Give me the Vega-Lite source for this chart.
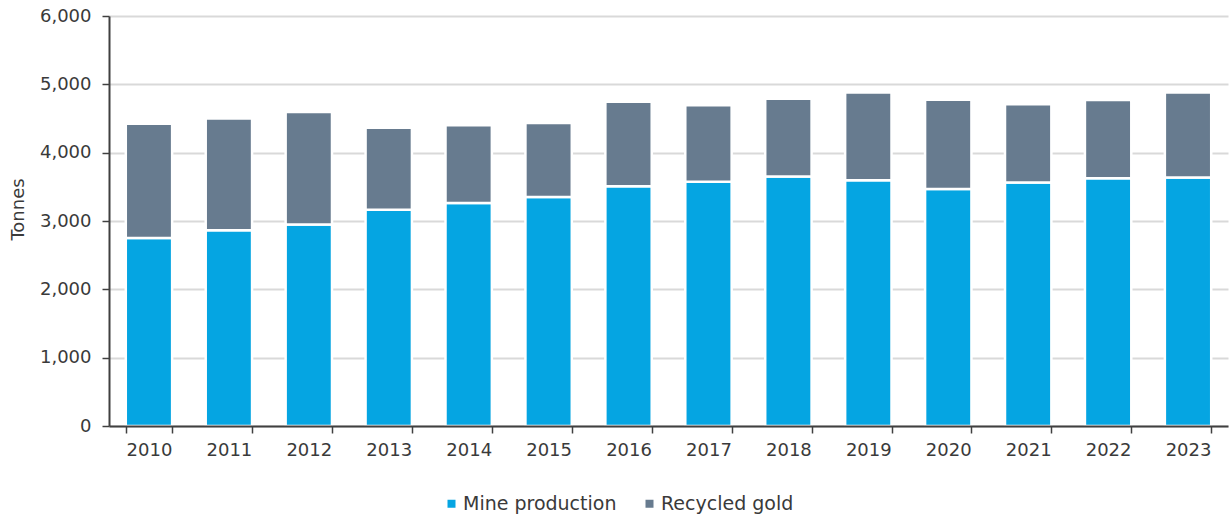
{
  "$schema": "https://vega.github.io/schema/vega-lite/v6.json",
  "autosize": {"type": "none"},
  "padding": {"left": 109, "top": 16, "right": 3, "bottom": 92},
  "width": 1119,
  "height": 410,
  "background": "white",
  "data": {
    "values": [
      {"year": "2010", "series": "Mine production", "value": 2750},
      {"year": "2011", "series": "Mine production", "value": 2865},
      {"year": "2012", "series": "Mine production", "value": 2950},
      {"year": "2013", "series": "Mine production", "value": 3165},
      {"year": "2014", "series": "Mine production", "value": 3265},
      {"year": "2015", "series": "Mine production", "value": 3350},
      {"year": "2016", "series": "Mine production", "value": 3510},
      {"year": "2017", "series": "Mine production", "value": 3575},
      {"year": "2018", "series": "Mine production", "value": 3650},
      {"year": "2019", "series": "Mine production", "value": 3595},
      {"year": "2020", "series": "Mine production", "value": 3470},
      {"year": "2021", "series": "Mine production", "value": 3565},
      {"year": "2022", "series": "Mine production", "value": 3625},
      {"year": "2023", "series": "Mine production", "value": 3635},
      {"year": "2010", "series": "Recycled gold", "value": 1675},
      {"year": "2011", "series": "Recycled gold", "value": 1635},
      {"year": "2012", "series": "Recycled gold", "value": 1645},
      {"year": "2013", "series": "Recycled gold", "value": 1200},
      {"year": "2014", "series": "Recycled gold", "value": 1135},
      {"year": "2015", "series": "Recycled gold", "value": 1085},
      {"year": "2016", "series": "Recycled gold", "value": 1235},
      {"year": "2017", "series": "Recycled gold", "value": 1120},
      {"year": "2018", "series": "Recycled gold", "value": 1140},
      {"year": "2019", "series": "Recycled gold", "value": 1285},
      {"year": "2020", "series": "Recycled gold", "value": 1305},
      {"year": "2021", "series": "Recycled gold", "value": 1145},
      {"year": "2022", "series": "Recycled gold", "value": 1145},
      {"year": "2023", "series": "Recycled gold", "value": 1245}
    ]
  },
  "mark": {"type": "bar", "stroke": "white", "strokeWidth": 2.5},
  "encoding": {
    "x": {
      "field": "year",
      "type": "ordinal",
      "scale": {"paddingInner": 0.42, "paddingOuter": 0.21},
      "axis": {
        "title": null,
        "zindex": 1,
        "labelAngle": 0,
        "tickBand": "extent",
        "tickSize": 7,
        "tickWidth": 1.5,
        "tickColor": "#404040",
        "domainColor": "#404040",
        "domainWidth": 2,
        "labelPadding": 8,
        "labelFont": "DejaVu Sans",
        "labelFontSize": 18,
        "labelColor": "#3A3A3A",
        "grid": false
      }
    },
    "y": {
      "field": "value",
      "type": "quantitative",
      "stack": "zero",
      "scale": {"domain": [0, 6000], "nice": false},
      "axis": {
        "title": "Tonnes",
        "values": [0, 1000, 2000, 3000, 4000, 5000, 6000],
        "format": ",.0f",
        "grid": true,
        "gridColor": "#D9D9D9",
        "gridWidth": 2,
        "tickSize": 7,
        "tickWidth": 1.5,
        "tickColor": "#404040",
        "domainColor": "#404040",
        "domainWidth": 2,
        "labelPadding": 11,
        "labelFont": "DejaVu Sans",
        "labelFontSize": 18,
        "labelColor": "#3A3A3A",
        "titleFont": "DejaVu Sans",
        "titleFontSize": 18,
        "titleFontWeight": "normal",
        "titleColor": "#3A3A3A",
        "titleAngle": -90,
        "titleX": -91,
        "titleY": 193,
        "titleAlign": "center",
        "titleBaseline": "middle"
      }
    },
    "color": {
      "field": "series",
      "type": "nominal",
      "scale": {"domain": ["Mine production", "Recycled gold"], "range": ["#05A5E2", "#677B8F"]},
      "legend": {
        "title": null,
        "orient": "none",
        "direction": "horizontal",
        "legendX": 333,
        "legendY": 478,
        "symbolType": "square",
        "symbolSize": 64,
        "symbolStrokeWidth": 0,
        "symbolOpacity": 1,
        "labelFont": "DejaVu Sans",
        "labelFontSize": 19,
        "labelColor": "#3A3A3A",
        "labelOffset": 2,
        "columnPadding": 23,
        "padding": 0
      }
    },
    "order": {"field": "series", "sort": "ascending"}
  },
  "config": {
    "view": {"stroke": null}
  }
}
